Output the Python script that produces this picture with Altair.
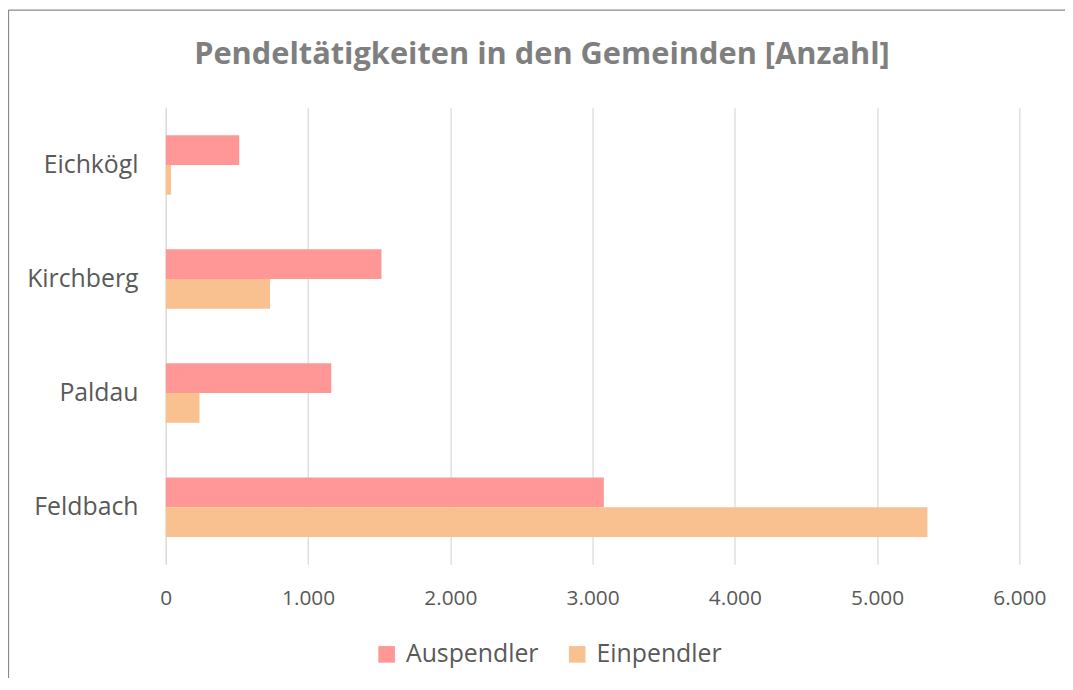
import altair as alt
import pandas as pd

categories = ["Eichkögl", "Kirchberg", "Paldau", "Feldbach"]
series = ["Auspendler", "Einpendler"]
auspendler = [516, 1516, 1163, 3079]
einpendler = [37, 733, 237, 5354]
x_ticks = [0, 1000, 2000, 3000, 4000, 5000, 6000]
colors = ["#ff9797", "#f9c18f"]

rows = []
for c, a, e in zip(categories, auspendler, einpendler):
    rows.append({"Gemeinde": c, "Art": series[0], "Anzahl": a})
    rows.append({"Gemeinde": c, "Art": series[1], "Anzahl": e})
df = pd.DataFrame(rows)

FONT = "Open Sans"
LABEL = "#595959"

bars = alt.Chart(df).mark_bar().encode(
    y=alt.Y("Gemeinde:N", sort=categories, title=None,
            scale=alt.Scale(paddingInner=0.478, paddingOuter=0.24),
            axis=alt.Axis(ticks=False, grid=False, domainColor="#d9d9d9", domainWidth=1.25,
                          labelFont=FONT, labelFontSize=25, labelColor=LABEL, labelPadding=28)),
    yOffset=alt.YOffset("Art:N", sort=series),
    x=alt.X("Anzahl:Q", title=None, scale=alt.Scale(domain=[0, 6000], nice=False),
            axis=alt.Axis(values=x_ticks, domain=False, ticks=False, grid=True,
                          gridColor="#d9d9d9", gridWidth=1.25, labelFlush=False,
                          labelFont=FONT, labelFontSize=21, labelColor=LABEL, labelPadding=23,
                          labelExpr="replace(format(datum.value, ',d'), ',', '.')")),
    color=alt.Color("Art:N", scale=alt.Scale(domain=series, range=colors),
                    legend=alt.Legend(title=None, orient="none", direction="horizontal",
                                      legendX=210, legendY=538,
                                      symbolType="square", symbolSize=280, symbolStrokeWidth=0,
                                      labelFont=FONT, labelFontSize=25, labelColor=LABEL,
                                      labelOffset=7, columnPadding=26)),
)

one = alt.Data(values=[{"a": 1}])
left_edge = alt.Chart(one).mark_rule(color="#8a8a8a", strokeWidth=1.25).encode(
    x=alt.value(-158.5), y=alt.value(-98.5), y2=alt.value(800),
)
top_edge = alt.Chart(one).mark_rule(color="#8a8a8a", strokeWidth=1.25).encode(
    x=alt.value(-158.5), x2=alt.value(2000), y=alt.value(-98.5),
)

chart = alt.layer(left_edge, top_edge, bars).properties(
    width=860, height=460,
    autosize=alt.AutoSizeParams(type="none"),
    padding={"left": 159, "top": 98, "right": 46, "bottom": 112},
    title=alt.TitleParams("Pendeltätigkeiten in den Gemeinden [Anzahl]",
                          font=FONT, fontSize=31, fontWeight="bold", color="#7f7f7f",
                          anchor="middle", frame="group", dx=-51, offset=-62),
).configure_view(stroke=None)

chart.save("out.html", embed_options={"renderer": "svg", "actions": False})
